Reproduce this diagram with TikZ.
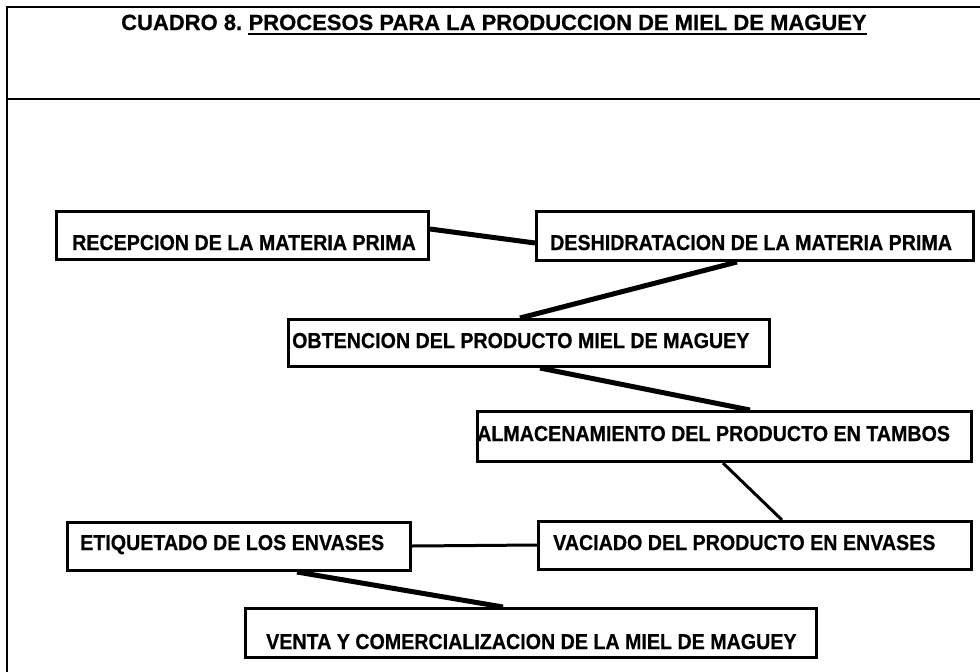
\documentclass[tikz,border=0pt]{standalone}
\usepackage{fontspec}
\setmainfont{Liberation Sans}[BoldFeatures={FakeBold=0.6}]
\newfontfamily\lblfont{Liberation Sans}[FakeStretch=0.91,BoldFeatures={FakeBold=0.6}]
\usetikzlibrary{calc}
\begin{document}
\begin{tikzpicture}[x=1pt,y=-1pt,
  box/.style={draw=black,line width=3pt,inner sep=0pt,anchor=north west},
  lbl/.style={font=\lblfont\bfseries\fontsize{21.6}{23}\selectfont,inner sep=0pt,anchor=base west},
  ttl/.style={font=\bfseries\fontsize{22}{24}\selectfont,inner sep=0pt,anchor=base west},
  frame/.style={line width=2pt},
  thick link/.style={line width=5pt},
  thin link/.style={line width=3pt}]
\useasboundingbox[fill=white] (0,0) rectangle (980,672);
% frame
\draw[frame] (980,7) -- (7,7) -- (7,672);
\draw[frame] (7,99) -- (980,99);
% title
\node[ttl] (t1) at (121,30) {CUADRO 8.};
\node[ttl,anchor=base west] (t2) at ($(t1.base east)+(6,0)$) {PROCESOS PARA LA PRODUCCION DE MIEL DE MAGUEY};
\draw[line width=2pt] ($(t2.base west)+(0,4)$) -- ($(t2.base east)+(0,4)$);
% boxes
\node[box,minimum width=372,minimum height=48] (rec) at (55,210) {};
\node[box,minimum width=437,minimum height=49] (des) at (535,210) {};
\node[box,minimum width=481,minimum height=47] (obt) at (287,318) {};
\node[box,minimum width=494,minimum height=50] (alm) at (476,410) {};
\node[box,minimum width=433,minimum height=48] (vac) at (537,520) {};
\node[box,minimum width=343,minimum height=48] (eti) at (66,521) {};
\node[box,minimum width=571,minimum height=49] (ven) at (244,607) {};
% labels
\node[lbl] (recT) at (72,250) {RECEPCION DE LA MATERIA PRIMA};
\node[lbl] (desT) at (550,250) {DESHIDRATACION DE LA MATERIA PRIMA};
\node[lbl] (obtT) at (292,348) {OBTENCION DEL PRODUCTO MIEL DE MAGUEY};
\node[lbl] (almT) at (477,441) {ALMACENAMIENTO DEL PRODUCTO EN TAMBOS};
\node[lbl] (vacT) at (553,550) {VACIADO DEL PRODUCTO EN ENVASES};
\node[lbl] (etiT) at (80,550) {ETIQUETADO DE LOS ENVASES};
\node[lbl] (venT) at (266,649) {VENTA Y COMERCIALIZACION DE LA MIEL DE MAGUEY};
% connectors
\draw[thick link] ($(rec.north east)+(0,19)$) -- ($(des.north west)+(0,33)$);
\draw[thick link] ($(des.south west)+(202,0)$) -- ($(obt.north west)+(233,0)$);
\draw[thick link] ($(obt.south west)+(253,0)$) -- ($(alm.north west)+(274,0)$);
\draw[thin link] ($(alm.south west)+(247,0)$) -- ($(vac.north west)+(245,0)$);
\draw[thin link] ($(eti.north east)+(0,25)$) -- ($(vac.north west)+(0,25)$);
\draw[thick link] ($(eti.south west)+(231,0)$) -- ($(ven.north west)+(259,0)$);
\end{tikzpicture}
\end{document}
